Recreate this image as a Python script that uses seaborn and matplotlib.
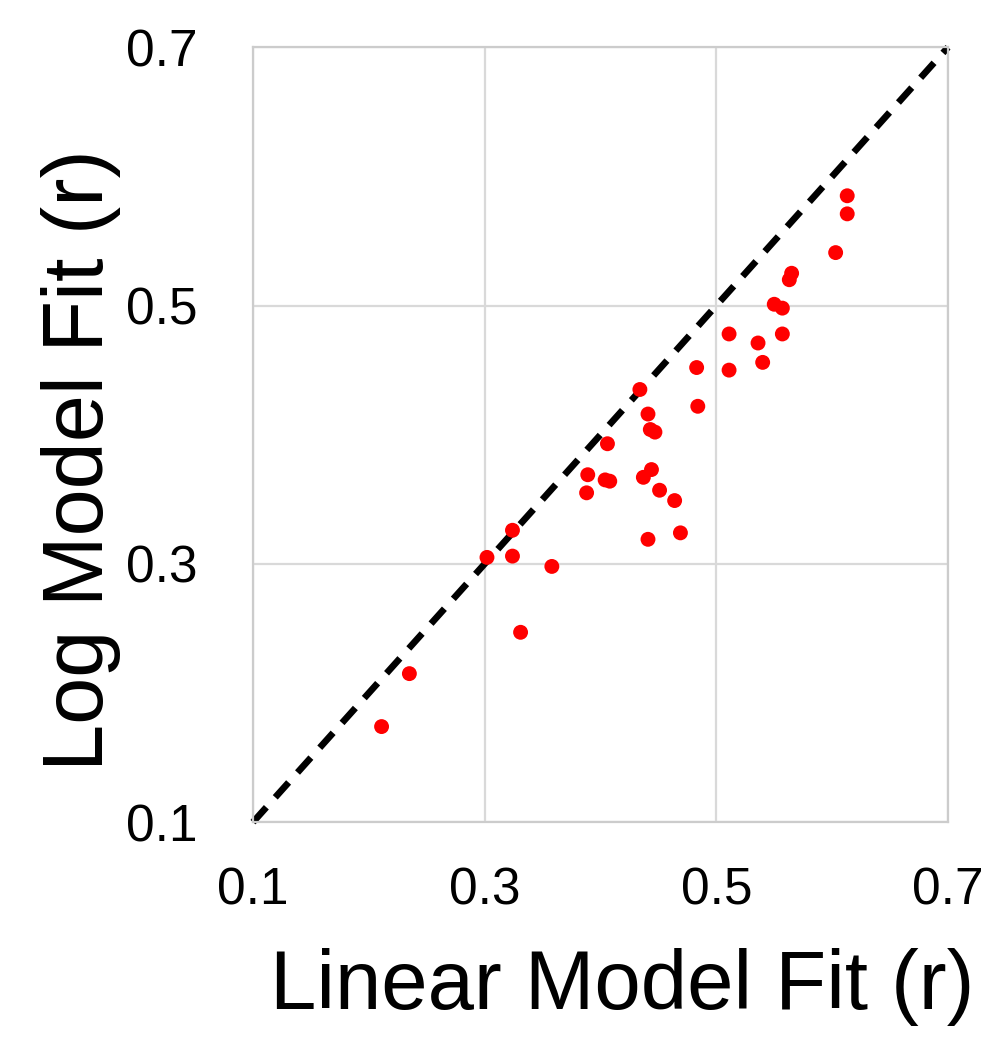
import matplotlib
matplotlib.use("Agg")
import matplotlib.pyplot as plt
import seaborn as sns
import pandas as pd

# Data
linear_fit = [0.211, 0.235, 0.302, 0.324, 0.324, 0.331, 0.358, 0.388, 0.389, 0.404,
              0.408, 0.406, 0.434, 0.441, 0.443, 0.447, 0.437, 0.444, 0.451, 0.464,
              0.469, 0.441, 0.483, 0.484, 0.511, 0.511, 0.536, 0.540, 0.550, 0.557,
              0.557, 0.563, 0.565, 0.603, 0.613, 0.613]
log_fit = [0.174, 0.215, 0.305, 0.326, 0.306, 0.247, 0.298, 0.355, 0.369, 0.365,
           0.364, 0.393, 0.435, 0.416, 0.404, 0.402, 0.367, 0.373, 0.357, 0.349,
           0.324, 0.319, 0.452, 0.422, 0.478, 0.450, 0.471, 0.456, 0.501, 0.498,
           0.478, 0.520, 0.525, 0.541, 0.571, 0.585]
identity = [0.1, 0.7]
ticks = [0.1, 0.3, 0.5, 0.7]
tick_labels = ["0.1", "0.3", "0.5", "0.7"]

df = pd.DataFrame({"linear": linear_fit, "log": log_fit})

sns.set_theme(style="whitegrid")
plt.rcParams["font.family"] = ["Liberation Sans", "DejaVu Sans"]

fig = plt.figure(figsize=(10, 10.5), dpi=100)
ax = fig.add_axes([0.253, 0.217, 0.695, 0.738])

ax.plot(identity, identity, color="black", lw=4.8, dashes=(3.0, 2.0),
        solid_capstyle="butt", dash_capstyle="butt", zorder=2, clip_on=False)
sns.scatterplot(data=df, x="linear", y="log", ax=ax, color="#ff0000", s=115,
                edgecolor="none", linewidth=0, zorder=3)

ax.set_xlim(0.1, 0.7)
ax.set_ylim(0.1, 0.7)
ax.set_xticks(ticks)
ax.set_xticklabels(tick_labels)
ax.set_yticks(ticks)
ax.set_yticklabels(tick_labels)
ax.tick_params(axis="x", length=0, pad=32, labelsize=37, colors="black")
ax.tick_params(axis="y", length=0, pad=40, labelsize=37, colors="black")

ax.grid(True, color="#d9d9d9", linewidth=1.6)
for sp in ax.spines.values():
    sp.set_color("#cccccc")
    sp.set_linewidth(1.6)

ax.set_xlabel("Linear Model Fit (r)", fontsize=60, color="black")
ax.set_ylabel("Log Model Fit (r)", fontsize=61, color="black")
ax.xaxis.set_label_coords(0.531, -0.163)
ax.yaxis.set_label_coords(-0.19, 0.467)

fig.savefig("out.png", dpi=100, facecolor="white")
